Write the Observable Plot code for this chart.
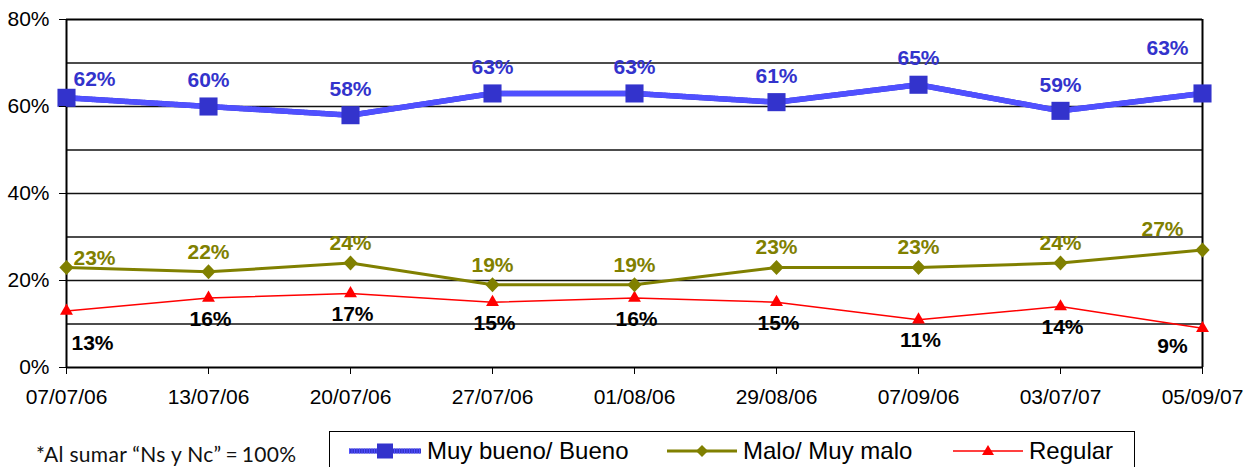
<!DOCTYPE html>
<html><head><meta charset="utf-8">
<script src="https://cdn.jsdelivr.net/npm/d3@7"></script>
<script src="https://cdn.jsdelivr.net/npm/@observablehq/plot@0.6"></script>
<style>
html,body{margin:0;padding:0;background:#fff;overflow:hidden;width:1245px;height:467px;}
#chart svg{display:block;}
#below{position:relative;height:60px;}
#note{position:absolute;left:36px;top:28px;font-family:"Lato","Open Sans",sans-serif;font-size:21px;color:#111;white-space:nowrap;letter-spacing:0.3px;}
#legend{position:absolute;left:329px;top:18px;width:806px;height:44px;border:1.5px solid #000;box-sizing:border-box;font-family:"Liberation Sans",Arial,sans-serif;font-size:24px;color:#000;}
.item{position:absolute;top:5px;display:flex;align-items:center;white-space:nowrap;}
.item svg{margin-right:6px;}
</style>
</head><body>
<div id="chart"></div>
<div id="below">
  <div id="note">*Al sumar “Ns y Nc”<span style="padding:0 4px">=</span>100%</div>
  <div id="legend"></div>
</div>
<script>
const dates = ["07/07/06","13/07/06","20/07/06","27/07/06","01/08/06","29/08/06","07/09/06","03/07/07","05/09/07"];
const muyBueno = [62,60,58,63,63,61,65,59,63];
const malo = [23,22,24,19,19,23,23,24,27];
const regular = [13,16,17,15,16,15,11,14,9];
const seriesNames = ["Muy bueno/ Bueno","Malo/ Muy malo","Regular"];
const yTicks = [0,20,40,60,80];
const gridLines = [10,20,30,40,50,60,70];

const BLUE = "#3333cc", BLUE2 = "#5050ff", OLIVE = "#808000", RED = "#ff0000";

const toRows = (vals) => vals.map((v,i)=>({date:dates[i], v, i}));
const rB = toRows(muyBueno), rM = toRows(malo), rR = toRows(regular);
const last = dates.length - 1;

const diamond = {draw(ctx, size){ const h = Math.sqrt(size/Math.PI); ctx.moveTo(0,-h); ctx.lineTo(h*0.95,0); ctx.lineTo(0,h); ctx.lineTo(-h*0.95,0); ctx.closePath(); }};

function labels(rows, color, first, mid, lastOff){
  const common = {x:"date", y:"v", text:d=>d.v+"%", fill:color, fontWeight:"bold", fontSize:21, fontFamily:"Liberation Sans, Arial, sans-serif"};
  return [
    Plot.text(rows.filter(d=>d.i===0), {...common, dx:first[0], dy:first[1]}),
    Plot.text(rows.filter(d=>d.i>0 && d.i<last), {...common, dx:mid[0], dy:mid[1]}),
    Plot.text(rows.filter(d=>d.i===last), {...common, dx:lastOff[0], dy:lastOff[1]})
  ];
}

const chart = Plot.plot({
  width:1245, height:413,
  marginLeft:66, marginRight:43, marginTop:19, marginBottom:46,
  style:{fontFamily:"Liberation Sans, Arial, sans-serif", fontSize:"21px", color:"#000", background:"#fff"},
  x:{type:"point", domain:dates, padding:0, label:null},
  y:{domain:[0,80], label:null},
  marks:[
    Plot.ruleY(gridLines, {stroke:"#111", strokeWidth:1.6}),
    Plot.ruleY([0,80], {stroke:"#000", strokeWidth:2}),
    Plot.ruleX([dates[0], dates[last]], {y1:0, y2:80, stroke:"#000", strokeWidth:2}),
    Plot.line(rR, {x:"date", y:"v", stroke:RED, strokeWidth:1.5}),
    Plot.dot(rR, {x:"date", y:"v", symbol:"triangle", r:4.8, fill:RED, stroke:"none"}),
    Plot.line(rM, {x:"date", y:"v", stroke:OLIVE, strokeWidth:3}),
    Plot.dot(rM, {x:"date", y:"v", symbol:diamond, r:7.5, fill:OLIVE, stroke:"none"}),
    Plot.line(rB, {x:"date", y:"v", stroke:BLUE, strokeWidth:5.5}),
    Plot.line(rB, {x:"date", y:"v", stroke:BLUE2, strokeWidth:5.5, strokeDasharray:"1,1.5"}),
    Plot.dot(rB, {x:"date", y:"v", symbol:"square", r:10.2, fill:BLUE, stroke:"none"}),
    ...labels(rB, BLUE, [28,-19], [0,-26], [-35,-45]),
    ...labels(rM, OLIVE, [28,-9], [0,-20], [-40,-21]),
    ...labels(rR, "#000", [26,32], [2,21], [-30,18]),
    Plot.axisX({tickSize:7, tickPadding:15, fontSize:21}),
    Plot.axisY({ticks:yTicks, tickFormat:d=>d+"%", tickSize:7, tickPadding:10, fontSize:21})
  ]
});
document.getElementById("chart").append(chart);

// legend
const legend = document.getElementById("legend");
const swatches = [
  `<svg width="72" height="20"><line x1="0" y1="10" x2="72" y2="10" stroke="${BLUE}" stroke-width="5"/><line x1="0" y1="10" x2="72" y2="10" stroke="${BLUE2}" stroke-width="5" stroke-dasharray="1,1.5"/><rect x="28" y="2.5" width="16" height="15" fill="${BLUE}"/></svg>`,
  `<svg width="70" height="20"><line x1="0" y1="10" x2="70" y2="10" stroke="${OLIVE}" stroke-width="3"/><path d="M35,4 L41,10 L35,16 L29,10Z" fill="${OLIVE}"/></svg>`,
  `<svg width="70" height="20"><line x1="0" y1="10" x2="70" y2="10" stroke="${RED}" stroke-width="1.5"/><path d="M35,4 L41,14 L29,14Z" fill="${RED}"/></svg>`
];
const lefts = [19, 337, 623];
seriesNames.forEach((name,i)=>{
  const d = document.createElement("div");
  d.className = "item";
  d.style.left = lefts[i]+"px";
  d.innerHTML = swatches[i] + `<span>${name}</span>`;
  legend.append(d);
});
</script>
</body></html>
